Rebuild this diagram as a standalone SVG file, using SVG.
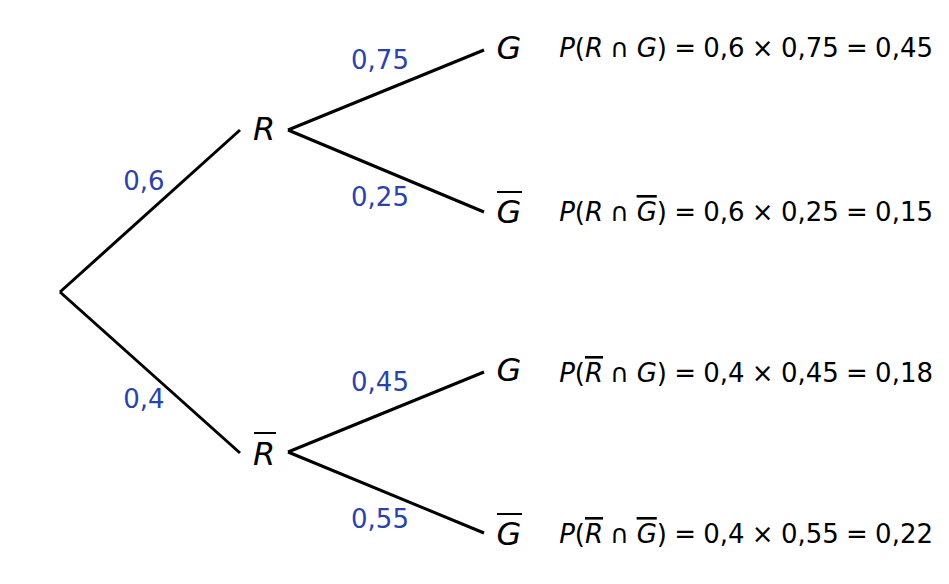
<svg xmlns="http://www.w3.org/2000/svg" width="949" height="584" viewBox="0 0 949 584">
<style>
.e{stroke:#000;stroke-width:3;fill:none}
.n{font-family:"DejaVu Sans",sans-serif;font-style:italic;font-size:32px}
.p{font-family:"DejaVu Sans",sans-serif;font-size:26px;fill:#2a43ab}
.f{font-family:"DejaVu Sans",sans-serif;font-size:26px;word-spacing:-1px}
.i{font-style:italic}
.o{text-decoration:overline}
</style>
<rect width="949" height="584" fill="#fff"/>
<g id="connectors">
<line class="e" x1="60" y1="292" x2="240" y2="130"/>
<line class="e" x1="60" y1="292" x2="240" y2="453"/>
<line class="e" x1="288" y1="130" x2="484" y2="50"/>
<line class="e" x1="288" y1="130" x2="484" y2="212"/>
<line class="e" x1="288" y1="452" x2="484" y2="372"/>
<line class="e" x1="288" y1="452" x2="484" y2="533"/>
<text class="p" x="144" y="190" text-anchor="middle">0,6</text>
<text class="p" x="144" y="408" text-anchor="middle">0,4</text>
<text class="p" x="380" y="69" text-anchor="middle">0,75</text>
<text class="p" x="380" y="206" text-anchor="middle">0,25</text>
<text class="p" x="380" y="391" text-anchor="middle">0,45</text>
<text class="p" x="380" y="528" text-anchor="middle">0,55</text>
</g>
<g id="R"><text class="n" x="264" y="140" text-anchor="middle">R</text></g>
<g id="Rbar"><text class="n" x="264" y="465" text-anchor="middle">R</text><line x1="254" y1="433" x2="276" y2="433" stroke="#000" stroke-width="2"/></g>
<g id="G1"><text class="n" x="509" y="59" text-anchor="middle">G</text></g>
<g id="G2"><text class="n" x="509" y="223" text-anchor="middle">G</text><line x1="497" y1="192" x2="522" y2="192" stroke="#000" stroke-width="2"/></g>
<g id="G3"><text class="n" x="509" y="381" text-anchor="middle">G</text></g>
<g id="G4"><text class="n" x="509" y="545" text-anchor="middle">G</text><line x1="497" y1="514" x2="522" y2="514" stroke="#000" stroke-width="2"/></g>
<g id="formulas">
<text class="f" x="933" y="57" text-anchor="end"><tspan class="i">P</tspan>(<tspan class="i">R</tspan> ∩ <tspan class="i">G</tspan>) = 0,6 × 0,75 = 0,45</text>
<text class="f" x="933" y="221" text-anchor="end"><tspan class="i">P</tspan>(<tspan class="i">R</tspan> ∩ <tspan class="i o">G</tspan>) = 0,6 × 0,25 = 0,15</text>
<text class="f" x="933" y="382" text-anchor="end"><tspan class="i">P</tspan>(<tspan class="i o">R</tspan> ∩ <tspan class="i">G</tspan>) = 0,4 × 0,45 = 0,18</text>
<text class="f" x="933" y="543" text-anchor="end"><tspan class="i">P</tspan>(<tspan class="i o">R</tspan> ∩ <tspan class="i o">G</tspan>) = 0,4 × 0,55 = 0,22</text>
</g>
</svg>
